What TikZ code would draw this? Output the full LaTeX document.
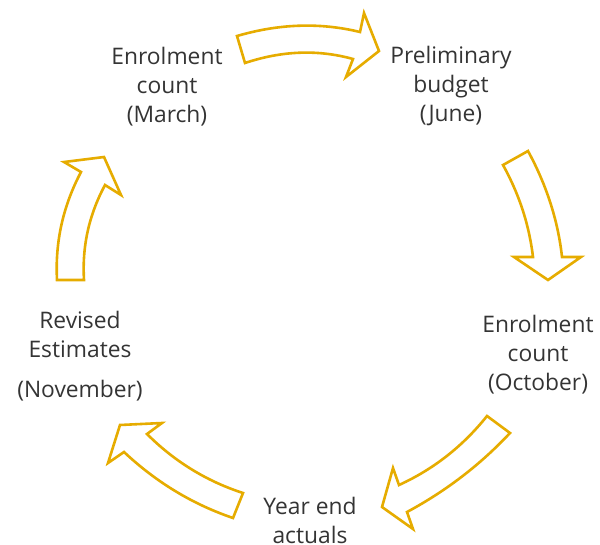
\documentclass[tikz,border=0pt]{standalone}
\usepackage{fontspec}
\setmainfont{Open Sans}
\definecolor{gold}{RGB}{230,172,0}
\definecolor{ink}{RGB}{52,52,52}
\begin{document}
\begin{tikzpicture}[x=1pt,y=-1pt,
  stage/.style={align=center,text=ink,font=\fontsize{22.8}{29}\selectfont,inner sep=0pt},
  blockarrow/.style={draw=gold,fill=white,line width=2.6pt,line join=miter}]
\useasboundingbox (0,0) rectangle (600,544);

% stages of the cycle
\node[stage] (march) at (167,87) {Enrolment\\count\\(March)};
\node[stage] (june) at (451,86) {Preliminary\\budget\\(June)};
\node[stage] (october) at (538,355) {Enrolment\\count\\(October)};
\node[stage] (yearend) at (310,520) {Year end\\actuals};
\node[stage] (november) at (80,356) {Revised\\Estimates\\[11pt](November)};

% March -> June
\draw[blockarrow] (237,36) .. controls (278,24) and (319,22) .. (360,32)
  -- (364,13) -- (379,51) -- (346,77) -- (353,59)
  .. controls (317,49) and (281,51) .. (245,63) -- cycle;

% June -> October
\draw[blockarrow] (528,151) .. controls (546,184) and (558,220) .. (562,257)
  -- (581,257) -- (548,280) -- (514,257) -- (533,257)
  .. controls (529,224) and (519,194) .. (503,165) -- cycle;

% October -> Year end
\draw[blockarrow] (487,416) .. controls (463,446) and (434,469) .. (399,485)
  -- (393,468) -- (382,507) -- (413,529) -- (407,512)
  .. controls (446,491) and (480,465) .. (510,433) -- cycle;

% Year end -> November
\draw[blockarrow] (233,518) .. controls (192,504) and (156,482) .. (124,452)
  -- (108,463) -- (120,425) -- (162,423) -- (147,434)
  .. controls (174,461) and (206,481) .. (243,493) -- cycle;

% November -> March
\draw[blockarrow] (57,280) .. controls (55,242) and (63,206) .. (81,172)
  -- (64,162) -- (104,157) -- (121,195) -- (105,185)
  .. controls (89,215) and (82,246) .. (84,280) -- cycle;
\end{tikzpicture}
\end{document}
